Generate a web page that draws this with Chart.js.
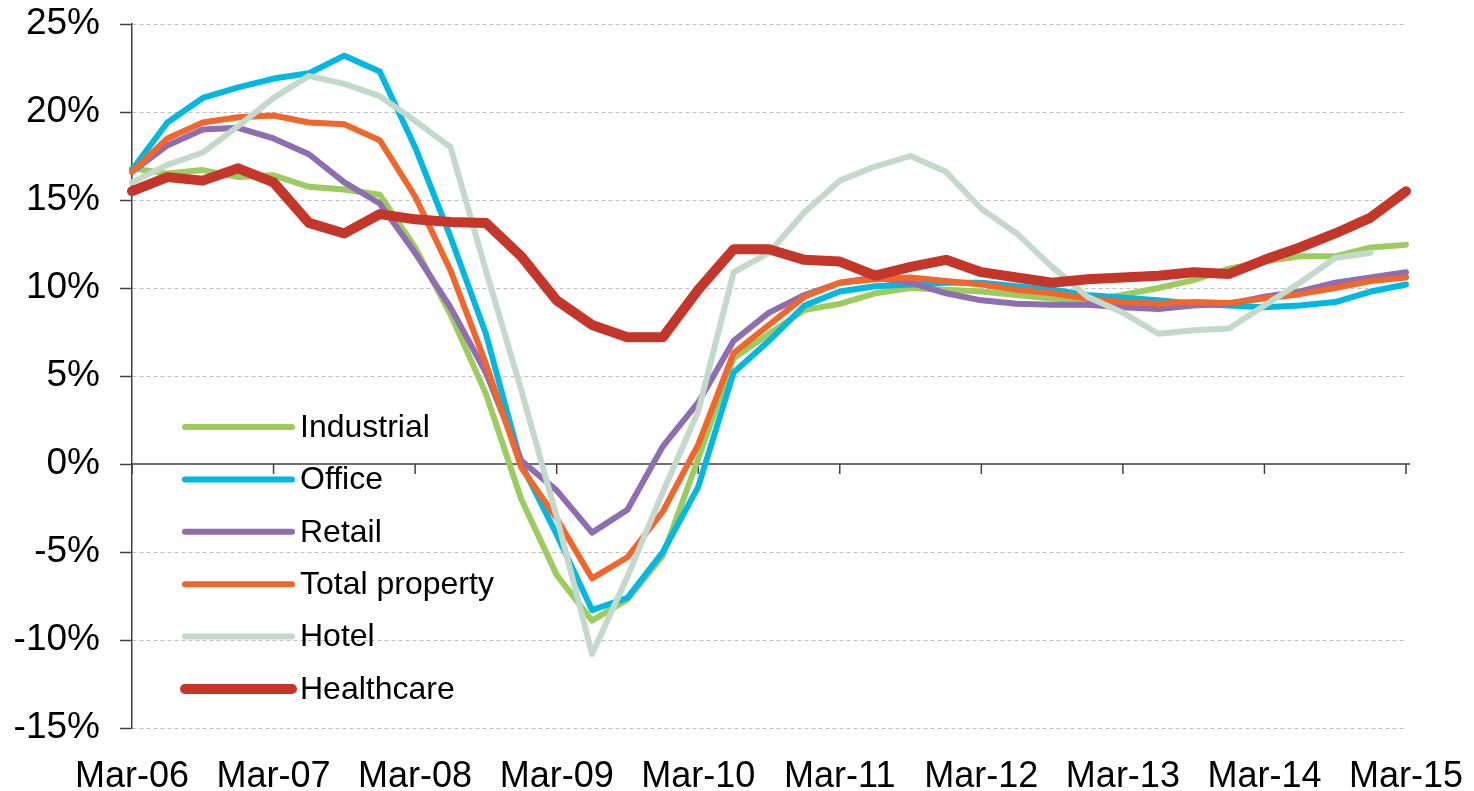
<!DOCTYPE html>
<html>
<head>
<meta charset="utf-8">
<title>Property returns</title>
<script src="https://cdn.jsdelivr.net/npm/chart.js@4.4.1/dist/chart.umd.min.js"></script>
<style>
  html, body { margin: 0; padding: 0; background: #fff; }
  #wrap { width: 1474px; height: 791px; }
</style>
</head>
<body>
<div id="wrap"><canvas id="myChart"></canvas></div>
<script>
// quarterly labels, only every 4th one is shown on the axis
const quarters = [
  'Mar-06', 'Jun-06', 'Sep-06', 'Dec-06', 'Mar-07', 'Jun-07', 'Sep-07', 'Dec-07',
  'Mar-08', 'Jun-08', 'Sep-08', 'Dec-08', 'Mar-09', 'Jun-09', 'Sep-09', 'Dec-09',
  'Mar-10', 'Jun-10', 'Sep-10', 'Dec-10', 'Mar-11', 'Jun-11', 'Sep-11', 'Dec-11',
  'Mar-12', 'Jun-12', 'Sep-12', 'Dec-12', 'Mar-13', 'Jun-13', 'Sep-13', 'Dec-13',
  'Mar-14', 'Jun-14', 'Sep-14', 'Dec-14', 'Mar-15'
];

const industrial = [16.8, 16.5, 16.7, 16.3, 16.4, 15.75, 15.6, 15.3, 12.3, 8.5, 4.0, -2.0, -6.3, -8.9, -7.7, -5.2, 0.3, 6.0, 7.4, 8.75, 9.1, 9.7, 10.0, 9.9, 9.8, 9.6, 9.4, 9.3, 9.6, 10.0, 10.45, 11.1, 11.5, 11.8, 11.8, 12.3, 12.45];
const office = [16.7, 19.4, 20.8, 21.4, 21.9, 22.2, 23.2, 22.3, 18.0, 12.9, 7.4, 0.0, -4.0, -8.3, -7.6, -5.0, -1.3, 5.2, 7.0, 9.0, 9.8, 10.1, 10.2, 10.3, 10.3, 10.1, 9.9, 9.6, 9.45, 9.3, 9.1, 9.0, 8.9, 9.0, 9.2, 9.8, 10.2];
const retail = [16.6, 18.1, 19.0, 19.1, 18.5, 17.6, 16.0, 14.8, 12.0, 8.9, 5.2, 0.2, -1.5, -3.9, -2.6, 1.0, 3.5, 7.0, 8.6, 9.6, 10.3, 10.6, 10.3, 9.7, 9.3, 9.1, 9.05, 9.05, 8.9, 8.8, 9.0, 9.1, 9.5, 9.8, 10.3, 10.6, 10.9];
const totalProperty = [16.6, 18.5, 19.4, 19.7, 19.8, 19.4, 19.3, 18.4, 15.2, 11.0, 5.7, -0.2, -3.1, -6.5, -5.3, -2.7, 1.1, 6.3, 7.9, 9.5, 10.3, 10.5, 10.6, 10.4, 10.2, 9.9, 9.7, 9.4, 9.2, 9.1, 9.2, 9.15, 9.4, 9.65, 10.0, 10.4, 10.6];
const hotel = [16.0, 17.0, 17.7, 19.2, 20.8, 22.05, 21.6, 20.9, 19.5, 18.0, 11.0, 4.2, -3.0, -10.8, -6.4, -1.6, 3.0, 10.9, 12.0, 14.3, 16.1, 16.9, 17.5, 16.6, 14.5, 13.1, 11.2, 9.5, 8.6, 7.4, 7.6, 7.7, 9.0, 10.3, 11.7, 12.0, null];
const healthcare = [15.5, 16.3, 16.1, 16.8, 16.0, 13.7, 13.1, 14.2, 13.9, 13.75, 13.7, 11.8, 9.3, 7.9, 7.2, 7.2, 9.9, 12.2, 12.2, 11.6, 11.5, 10.7, 11.2, 11.6, 10.9, 10.6, 10.3, 10.5, 10.6, 10.7, 10.9, 10.8, 11.6, 12.3, 13.1, 14.0, 15.5];

const seriesNames = ['Industrial', 'Office', 'Retail', 'Total property', 'Hotel', 'Healthcare'];
const seriesData = [industrial, office, retail, totalProperty, hotel, healthcare];
const seriesColors = ['#9ccb5e', '#00b8e2', '#8e6db1', '#f1662a', '#c3d9cb', '#c5362a'];
const seriesWidths = [6, 6, 6, 6, 6, 10];

const yTicks = [-15, -10, -5, 0, 5, 10, 15, 20, 25];

const FONT = '"Liberation Sans", Arial, sans-serif';
const AXIS_DARK = '#404040';

let datasets = seriesNames.map(function (name, i) {
    return {
        label: name,
        data: seriesData[i],
        borderColor: seriesColors[i],
        backgroundColor: seriesColors[i],
        borderWidth: seriesWidths[i],
        borderCapStyle: 'round',
        borderJoinStyle: 'round',
        pointRadius: 0,
        tension: 0,
        fill: false,
        spanGaps: false,
        // last series in the list is painted on top, like the original
        order: seriesNames.length - 1 - i
    };
});

// legend drawn inside the plot, lower left
const insideLegend = {
    id: 'insideLegend',
    afterDatasetsDraw(chart) {
        const c = chart.ctx;
        const x0 = chart.chartArea.left + 53;
        const y0 = 427;
        const gap = 52.4;
        c.save();
        c.font = '32px ' + FONT;
        c.textBaseline = 'middle';
        chart.data.datasets.forEach(function (ds, i) {
            const y = y0 + i * gap;
            c.strokeStyle = ds.borderColor;
            c.lineWidth = ds.borderWidth;
            c.lineCap = 'round';
            c.beginPath();
            c.moveTo(x0, y);
            c.lineTo(x0 + 107, y);
            c.stroke();
            c.fillStyle = '#000';
            c.fillText(ds.label, x0 + 115, y + 1);
        });
        c.restore();
    }
};

// zero line with small tick marks hanging under it
const zeroTicks = {
    id: 'zeroTicks',
    beforeDatasetsDraw(chart) {
        const xs = chart.scales.x, ys = chart.scales.y;
        const c = chart.ctx;
        const y = ys.getPixelForValue(0);
        c.save();
        c.strokeStyle = AXIS_DARK;
        c.lineWidth = 1.5;
        c.beginPath();
        c.moveTo(chart.chartArea.left, y);
        c.lineTo(chart.chartArea.right + 4, y);
        for (let i = 0; i < quarters.length; i += 4) {
            const x = xs.getPixelForValue(i);
            c.moveTo(x, y);
            c.lineTo(x, y + 10);
        }
        c.stroke();
        c.restore();
    }
};

let ctx = document.getElementById('myChart').getContext('2d');
let chart = new Chart(ctx, {
    type: 'line',
    data: { labels: quarters, datasets: datasets },
    plugins: [zeroTicks, insideLegend],
    options: {
        responsive: true,
        maintainAspectRatio: false,
        animation: false,
        layout: { padding: { left: 0, right: 68, top: 24, bottom: 0 } },
        plugins: {
            legend: { display: false },
            tooltip: { enabled: false }
        },
        scales: {
            x: {
                offset: false,
                grid: { display: false },
                border: { display: false },
                // fixed axis box so the plot area lands where the original has it
                afterFit: function (scale) {
                    scale.height = 63;
                    scale.paddingLeft = 0;
                    scale.paddingRight = 0;
                },
                ticks: {
                    autoSkip: false,
                    maxRotation: 0,
                    padding: 19,
                    color: '#000',
                    font: { family: FONT, size: 36 },
                    callback: function (val, idx) {
                        return idx % 4 === 0 ? quarters[idx] : '';
                    }
                }
            },
            y: {
                min: yTicks[0],
                max: yTicks[yTicks.length - 1],
                afterBuildTicks: function (scale) {
                    scale.ticks = yTicks.map(v => ({ value: v }));
                },
                afterFit: function (scale) {
                    scale.width = 132;
                    scale.paddingTop = 0;
                    scale.paddingBottom = 0;
                },
                grid: {
                    color: (c) => c.tick && c.tick.value === 0 ? 'rgba(0,0,0,0)' : '#bfbfbf',
                    lineWidth: 1,
                    tickColor: AXIS_DARK,
                    tickLength: 12,
                    tickWidth: 1.5
                },
                border: {
                    display: true,
                    color: AXIS_DARK,
                    width: 1.5,
                    dash: (c) => c.type === 'tick' ? [4, 3] : []
                },
                ticks: {
                    padding: 20,
                    color: '#000',
                    font: { family: FONT, size: 37 },
                    callback: (v) => v + '%'
                }
            }
        }
    }
});
</script>
</body>
</html>
